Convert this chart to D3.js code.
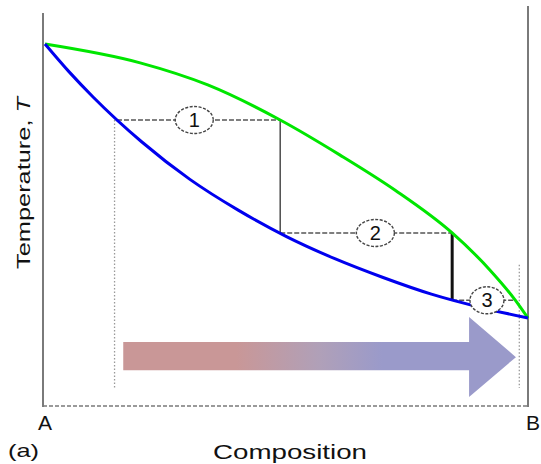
<!DOCTYPE html>
<html>
<head>
<meta charset="utf-8">
<script src="https://cdn.jsdelivr.net/npm/d3@7/dist/d3.min.js"></script>
<style>
  html, body { margin: 0; padding: 0; background: #fff; }
  svg { display: block; }
  text { font-family: "Liberation Sans", Arial, sans-serif; fill: #111; }
</style>
</head>
<body>
<script>
// Binary phase diagram A–B: liquidus (green) and solidus (blue) with fractional steps.
// Composition in % B, temperature normalised 0–100.
const endLabels = ["A", "B"];
const liquidusComp = [0, 19.7, 33.7, 48.7, 61.1, 72.5, 84.3, 92.1, 97.4, 100];
const liquidusTemp = [100, 94.8, 88.7, 79.0, 69.3, 59.6, 47.8, 37.6, 29.2, 24.3];
const solidusComp  = [0, 5, 10, 20, 30, 40, 50, 60, 70, 80, 90, 100];
const solidusTemp  = [100, 92.3, 85.3, 73.0, 62.6, 54.1, 46.8, 40.7, 35.5, 30.9, 27.3, 24.3];
// Tie lines: temperature, solid composition, liquid composition, label
const stepTemp   = [79.0, 47.8, 29.2];
const stepSolid  = [14.9, 48.7, 84.3];
const stepLiquid = [48.7, 84.3, 97.4];
const stepLabels = ["1", "2", "3"];
const stepLabelComp = [30.9, 68.4, 91.5];

const W = 541, H = 464;
const svg = d3.select("body").append("svg").attr("width", W).attr("height", H);

const x = d3.scaleLinear().domain([0, 100]).range([45, 528]);
const y = d3.scaleLinear().domain([0, 100]).range([406, 44]);

// gradient for the composition-shift arrow
const defs = svg.append("defs");
const grad = defs.append("linearGradient").attr("id", "shiftGrad")
  .attr("gradientUnits", "userSpaceOnUse")
  .attr("x1", x(16)).attr("x2", x(97.5)).attr("y1", 0).attr("y2", 0);
grad.append("stop").attr("offset", 0.29).attr("stop-color", "#c99797");
grad.append("stop").attr("offset", 0.5).attr("stop-color", "#b0a0b8");
grad.append("stop").attr("offset", 0.66).attr("stop-color", "#9a9aca");

// frame: left and right verticals, dashed composition axis
svg.append("line").attr("x1", 43).attr("x2", 43).attr("y1", 13).attr("y2", 407)
  .attr("stroke", "#7a7a7a").attr("stroke-width", 2);
svg.append("line").attr("x1", 528).attr("x2", 528).attr("y1", 6).attr("y2", 407)
  .attr("stroke", "#7a7a7a").attr("stroke-width", 2);
svg.append("line").attr("x1", 43).attr("x2", 528).attr("y1", 406).attr("y2", 406)
  .attr("stroke", "#7a7a7a").attr("stroke-width", 1.5).attr("stroke-dasharray", "4,2");

// end-member labels
svg.selectAll("text.end").data(endLabels).join("text")
  .attr("class", "end")
  .attr("x", (d, i) => i === 0 ? x(0) : x(100) + 5)
  .attr("y", 430).attr("text-anchor", "middle")
  .attr("font-size", 21).text(d => d);

svg.append("text").attr("x", 290).attr("y", 459).attr("text-anchor", "middle")
  .attr("font-size", 20).attr("textLength", 154).attr("lengthAdjust", "spacingAndGlyphs")
  .text("Composition");
svg.append("text").attr("x", 8).attr("y", 457)
  .attr("font-size", 19).attr("textLength", 31).attr("lengthAdjust", "spacingAndGlyphs")
  .text("(a)");

const yl = svg.append("text").attr("transform", "translate(30,183) rotate(-90)")
  .attr("text-anchor", "middle").attr("font-size", 19)
  .attr("textLength", 172).attr("lengthAdjust", "spacingAndGlyphs");
yl.append("tspan").text("Temperature, ");
yl.append("tspan").attr("font-style", "italic").text("T");

// dotted verticals marking start and final compositions
svg.append("line").attr("x1", x(14.4)).attr("x2", x(14.4)).attr("y1", y(79)).attr("y2", y(5))
  .attr("stroke", "#999").attr("stroke-width", 1.3).attr("stroke-dasharray", "1.5,2");
svg.append("line").attr("x1", x(98.2)).attr("x2", x(98.2)).attr("y1", y(39)).attr("y2", y(5))
  .attr("stroke", "#999").attr("stroke-width", 1.3).attr("stroke-dasharray", "1.5,2");

// arrow
const arrow = d3.path();
arrow.moveTo(x(16.2), y(17.7));
arrow.lineTo(x(87.8), y(17.7));
arrow.lineTo(x(87.8), y(24.6));
arrow.lineTo(x(97.5), y(13.5));
arrow.lineTo(x(87.8), y(2.5));
arrow.lineTo(x(87.8), y(9.9));
arrow.lineTo(x(16.2), y(9.9));
arrow.closePath();
svg.append("path").attr("d", arrow.toString()).attr("fill", "url(#shiftGrad)");

// tie lines and steps
const steps = stepTemp.map((t, i) => ({
  t, s: stepSolid[i], l: stepLiquid[i], label: stepLabels[i], lc: stepLabelComp[i]
}));
svg.selectAll("line.tie").data(steps).join("line").attr("class", "tie")
  .attr("x1", d => x(d.s)).attr("x2", d => x(d.l))
  .attr("y1", d => y(d.t)).attr("y2", d => y(d.t))
  .attr("stroke", "#555").attr("stroke-width", 1.5).attr("stroke-dasharray", "5,2");

// vertical drops from liquid end of one tie line to the next
svg.append("line").attr("x1", x(stepLiquid[0])).attr("x2", x(stepLiquid[0]))
  .attr("y1", y(stepTemp[0])).attr("y2", y(stepTemp[1]))
  .attr("stroke", "#555").attr("stroke-width", 1.6);
svg.append("line").attr("x1", x(stepLiquid[1])).attr("x2", x(stepLiquid[1]))
  .attr("y1", y(stepTemp[1])).attr("y2", y(stepTemp[2]))
  .attr("stroke", "#111").attr("stroke-width", 3);

const line = d3.line().curve(d3.curveMonotoneX);
const liq = liquidusComp.map((c, i) => [x(c), y(liquidusTemp[i])]);
const sol = solidusComp.map((c, i) => [x(c), y(solidusTemp[i])]);
svg.append("path").attr("d", line(liq)).attr("fill", "none")
  .attr("stroke", "#00e600").attr("stroke-width", 3);
svg.append("path").attr("d", line(sol)).attr("fill", "none")
  .attr("stroke", "#0000ee").attr("stroke-width", 3);

// step labels
const lab = svg.selectAll("g.step").data(steps).join("g").attr("class", "step")
  .attr("transform", d => `translate(${x(d.lc)},${y(d.t)})`);
lab.append("ellipse").attr("rx", (d, i) => i === 2 ? 17 : 19).attr("ry", 13.5)
  .attr("fill", "#fff").attr("stroke", "#444").attr("stroke-width", 1.4)
  .attr("stroke-dasharray", "3,1.5");
lab.append("text").attr("text-anchor", "middle").attr("dy", 7)
  .attr("font-size", 20).text(d => d.label);
</script>
</body>
</html>
